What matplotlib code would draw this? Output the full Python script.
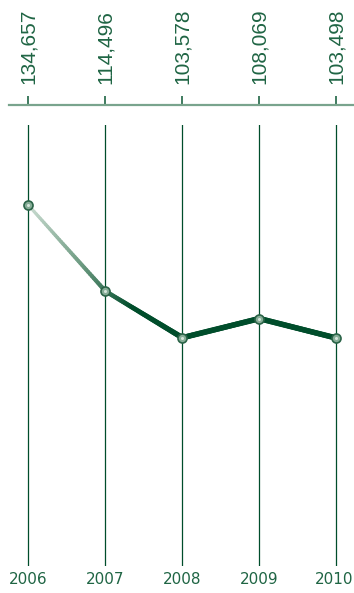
import numpy as np
import matplotlib as mpl
import matplotlib.pyplot as plt
from matplotlib.collections import LineCollection
from matplotlib.colors import LinearSegmentedColormap
from matplotlib.transforms import blended_transform_factory, offset_copy

years = [2006, 2007, 2008, 2009, 2010]
values = [134657, 114496, 103578, 108069, 103498]
labels = ["134,657", "114,496", "103,578", "108,069", "103,498"]

DARK = "#004d2b"
TEXT = "#1f6544"
AXLINE = "#79a48d"

W, H = 354, 593


def fy(px):
    # pixel row (from top) -> figure fraction
    return 1 - px / H


fig = plt.figure(figsize=(W / 100, H / 100), dpi=100)
ax = fig.add_axes([0, fy(566), 1, (566 - 125) / H])
ax.set_xlim(2006 - 28.5 / 77, 2010 + (W - 336.3) / 77)
ax.set_ylim(50000, 153500)
ax.axis("off")

# vertical year lines
for yr in years:
    ax.axvline(yr, color=DARK, lw=0.9, zorder=1)

# gradient line, light -> dark over the first two segments
cmap = LinearSegmentedColormap.from_list(
    "g", ["#cadcd1", "#6f9c83", "#004d2b", "#004d2b"])
segs, cols, widths = [], [], []
n = 40
for i in range(len(years) - 1):
    xs = np.linspace(years[i], years[i + 1], n + 1)
    ys = np.linspace(values[i], values[i + 1], n + 1)
    for j in range(n):
        t = min((i + j / n) / 2.0, 1.0)
        segs.append([(xs[j], ys[j]), (xs[j + 1], ys[j + 1])])
        cols.append(cmap(t * 0.99))
        widths.append(2.2 + 1.8 * t)
lc = LineCollection(segs, colors=cols, linewidths=widths,
                    capstyle="round", zorder=2)
ax.add_collection(lc)

ax.plot(years, values, "o", ms=6.5, mfc="#86ad97", mec="#2a6347",
        mew=1.2, zorder=3)
ax.plot(years, values, "o", ms=2.2, mfc="#d5e5db", mec="none", zorder=4)

# top axis line with ticks and value labels
fig.lines.append(plt.Line2D([9 / W, 1], [fy(105), fy(105)],
                            color=AXLINE, lw=1.6, transform=fig.transFigure))
tr = blended_transform_factory(ax.transData, fig.transFigure)
ax.vlines(years, fy(105), fy(96), color=TEXT, lw=1.2,
          transform=tr, clip_on=False)
for i, (yr, lab) in enumerate(zip(years, labels)):
    ax.text(yr, fy(84), lab, transform=tr, rotation=90,
            ha="center", va="bottom", fontsize=15, color=TEXT,
            family="Liberation Sans")
    shift = -2 if i == len(years) - 1 else 0
    ax.text(yr, fy(580), str(yr),
            transform=offset_copy(tr, fig=fig, x=shift, units="dots"),
            ha="center", va="center", fontsize=11, color=TEXT,
            family="DejaVu Sans")

fig.savefig("out.png", dpi=100)
